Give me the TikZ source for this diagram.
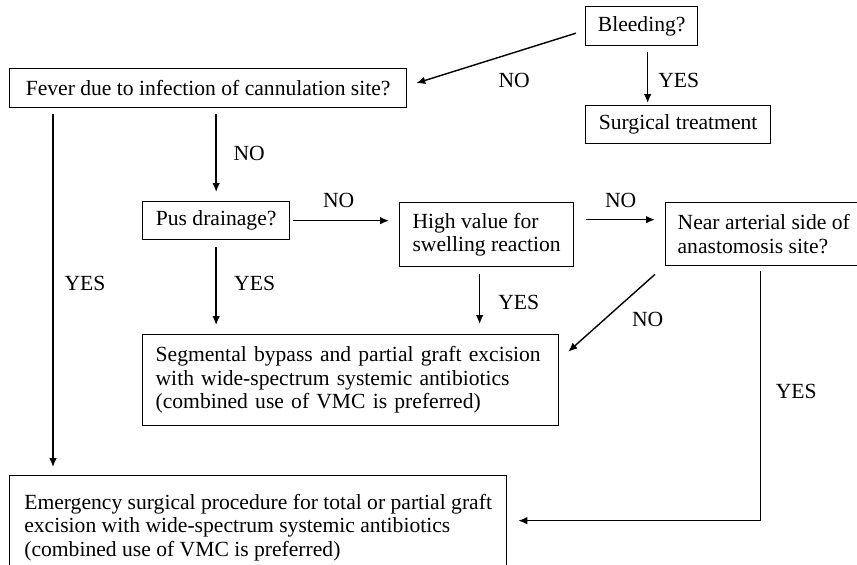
\documentclass[tikz,border=0pt]{standalone}
\usepackage{fontspec}
\setmainfont{Liberation Serif}
\usetikzlibrary{arrows.meta,positioning,calc}
\newcommand{\flowfont}{\fontsize{10.8}{11.75}\selectfont}
\tikzset{box/.style={
            draw,
            line width=0.65pt,
            inner xsep=6pt,
            inner ysep=0pt,
            anchor=north west,
            font=\flowfont
        },
        lab/.style={
            inner sep=0pt,
            font=\flowfont
        },
        arr/.style={
            ->,
            >={Latex[length=4.5pt,width=3.8pt]},
            line width=0.7pt
        }
    }

\begin{document}
\begin{tikzpicture}[x=0.5pt,y=-0.5pt]
        \useasboundingbox (0,0) rectangle (857,564);

        \node[box, minimum width=56pt, minimum height=19.5pt] (bleed) at (585,6) {Bleeding?};
        \node[box, minimum width=92.5pt, minimum height=19pt] (surg) at (585,105) {Surgical treatment};
        \node[box, minimum width=198.5pt, minimum height=19.5pt] (fever) at (9,68) {Fever due to infection of cannulation site?};
        \node[box, minimum width=73.5pt, minimum height=19pt] (pus) at (142,201) {Pus drainage?};
        \node[box, align=left, minimum width=87pt, minimum height=32pt] (swell) at (399,202) {High value for\\swelling reaction};
        \node[box, align=left, minimum width=95.5pt, minimum height=31.5pt] (near) at (665,202) {Near arterial side of\\anastomosis site?};
        \node[box, align=left, text width=195pt, inner xsep=6.5pt, minimum height=45.5pt] (seg) at (142,334)
            {Segmental bypass and partial graft excision\\with wide-spectrum systemic antibiotics\\(combined use of VMC is preferred)};
        % runs past the bottom edge, as in the original
        \node[box, align=left, minimum width=248.5pt, minimum height=52pt] (emerg) at (9,475)
            {Emergency surgical procedure for total or partial graft\\excision with wide-spectrum systemic antibiotics\\(combined use of VMC is preferred)};

        % helper points
        \coordinate (bs) at ([xshift=3pt]bleed.south);
        \coordinate (fy) at ([xshift=22pt]fever.south west);
        \coordinate (sn) at ([yshift=7.5pt]swell.east);
        \coordinate (ss) at ([xshift=-3.5pt]swell.south);
        \coordinate (ny) at ([xshift=-1.75pt]near.south);
        \coordinate (ee) at ([yshift=3.5pt]emerg.east);

        \draw[arr] ([shift={(-4.5pt,-3.5pt)}]bleed.west) -- ([shift={(4.5pt,2.5pt)}]fever.east) node[lab,midway,shift={(9pt,-11pt)}] {NO};
        \draw[arr, shorten <=3pt, shorten >=1pt] (bs) -- (bs |- surg.north) node[lab,midway,shift={(15.5pt,-2.5pt)}] {YES};
        \draw[arr, shorten <=3pt, shorten >=4.5pt] (pus.north |- fever.south) -- (pus.north) node[lab,midway,shift={(16.5pt,0.5pt)}] {NO};
        \draw[arr, shorten <=3pt, shorten >=4pt] (fy) -- (fy |- emerg.north) node[lab,midway,shift={(16pt,4pt)}] {YES};

        \draw[arr, shorten <=1.5pt, shorten >=5pt] (pus.east) -- (pus.east -| swell.west) node[lab,midway,shift={(-3pt,10pt)}] {NO};
        \draw[arr, shorten <=6pt, shorten >=5pt] (sn) -- (sn -| near.west) node[lab,midway,shift={(0.5pt,9.5pt)}] {NO};

        \draw[arr, shorten <=3.5pt, shorten >=4.5pt] (pus.south) -- (pus.south |- seg.north) node[lab,midway,shift={(19.25pt,1.75pt)}] {YES};
        \draw[arr, shorten <=3.5pt, shorten >=5pt] (ss) -- (ss |- seg.north) node[lab,midway,shift={(19.5pt,-1pt)}] {YES};
        \draw[arr] ([shift={(-5pt,-4pt)}]near.south west) -- ([shift={(4.5pt,14.25pt)}]seg.east) node[lab,midway,shift={(18pt,-3pt)}] {NO};
        \draw[arr, shorten <=2.5pt, shorten >=5.5pt] (ny) |- (ee) node[lab,pos=0.25,shift={(18pt,1pt)}] {YES};

    \end{tikzpicture}
\end{document}
